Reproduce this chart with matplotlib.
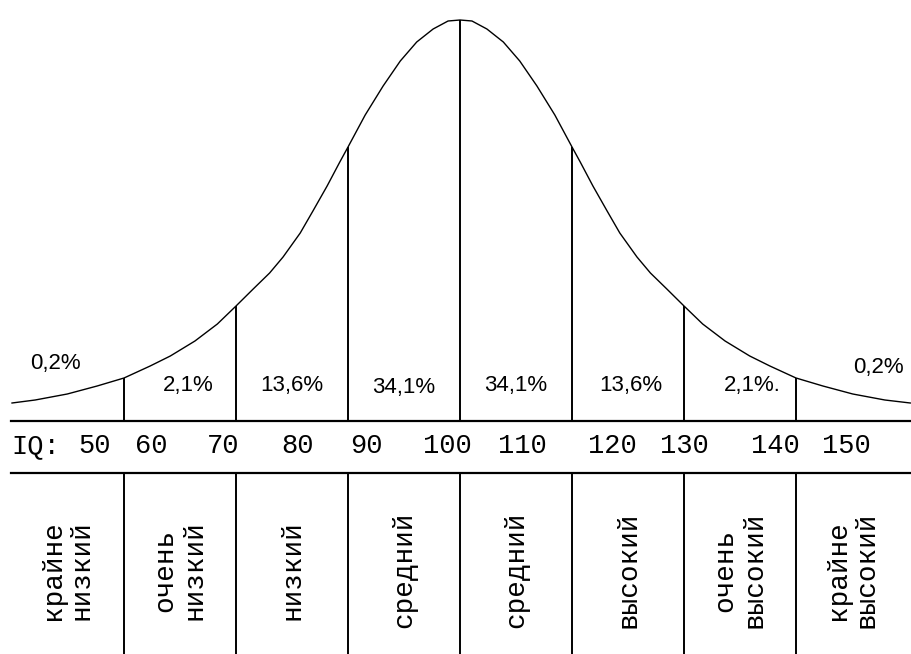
import numpy as np
import matplotlib
matplotlib.use("Agg")
import matplotlib.pyplot as plt

# ---- data ----
# bell curve: IQ value vs. curve height (arbitrary units, baseline = 0)
curve_iq = [40.0, 43.1, 47.4, 51.4, 55.0, 58.5, 61.2, 64.5, 67.5, 70.0, 72.3, 74.5, 76.3,
            78.6, 80.3, 82.2, 83.9, 85.0, 87.3, 89.7, 92.0, 94.2, 96.4, 98.4, 100.0,
            101.6, 103.6, 105.8, 108.0, 110.3, 112.7, 115.0, 116.1, 117.8, 119.7,
            121.4, 123.7, 125.5, 127.7, 130.0, 132.5, 135.5, 138.8, 141.5, 145.0,
            148.6, 152.6, 156.9, 160.3]
curve_h = [18, 21, 27, 35, 43, 55, 65, 80, 97, 115, 132, 148, 164,
           188, 210, 235, 259, 274, 306, 335, 360, 379, 392, 400, 401,
           400, 392, 379, 360, 335, 306, 274, 259, 235, 210,
           188, 164, 148, 132, 115, 97, 80, 65, 55, 43,
           35, 27, 21, 18]

boundaries = [55, 70, 85, 100, 115, 130, 145]
percents = ["0,2%", "2,1%", "13,6%", "34,1%", "34,1%", "13,6%", "2,1%.", "0,2%"]
iq_ticks = [50, 60, 70, 80, 90, 100, 110, 120, 130, 140, 150]
categories = ["крайне\nнизкий", "очень\nнизкий", "низкий", "средний",
              "средний", "высокий", "очень\nвысокий", "крайне\nвысокий"]

# ---- layout (positions in IQ / height units) ----
pct_x = [45.8, 63.6, 77.5, 92.5, 107.4, 122.9, 139.1, 156.0]
pct_y = [57, 36, 36, 33, 35, 35, 35, 54]
tick_x = [51.0, 58.6, 68.3, 78.2, 87.4, 98.3, 108.4, 120.4, 130.0, 142.3, 151.8]
cat_x = [47.4, 62.5, 77.5, 92.5, 107.5, 122.5, 137.5, 152.5]

X0, X1 = 38.39, 160.4     # figure edges in IQ units
Y0, Y1 = -233, 421        # figure edges in height units
LEFT = 39.87              # left end of horizontal rules
BAND = -52                # lower edge of the IQ label band

fig = plt.figure(figsize=(9.11, 6.54), dpi=100)
ax = fig.add_axes([0, 0, 1, 1])
ax.set_xlim(X0, X1)
ax.set_ylim(Y0, Y1)
ax.axis("off")

# curve
ax.plot(curve_iq, curve_h, color="black", lw=1.0, solid_joinstyle="round")

# horizontal rules
ax.plot([LEFT, X1], [0, 0], color="black", lw=1.6)
ax.plot([LEFT, X1], [BAND, BAND], color="black", lw=1.6)

# vertical lines under the curve and in the category band
tops = np.interp(boundaries, curve_iq, curve_h)
ax.vlines(boundaries, 0, tops, color="black", lw=1.4)
ax.vlines(boundaries, Y0, BAND, color="black", lw=1.4)

# percentages
for x, y, t in zip(pct_x, pct_y, percents):
    ax.text(x, y, t, ha="center", va="center", fontsize=16,
            family="Liberation Sans", color="black")

# IQ label row
ax.text(LEFT, -25, "IQ:", ha="left", va="center", fontsize=19.5,
        family="Liberation Mono", color="black")
for x, v in zip(tick_x, iq_ticks):
    ax.text(x, -25, str(v), ha="center", va="center", fontsize=19.5,
            family="Liberation Mono", color="black")

# category labels (vertical)
for x, t in zip(cat_x, categories):
    ax.text(x, -149, t, ha="center", va="center", rotation=90, fontsize=20,
            family="Liberation Mono", multialignment="center",
            linespacing=1.15, color="black")

fig.savefig("out.png", dpi=100, facecolor="white")
